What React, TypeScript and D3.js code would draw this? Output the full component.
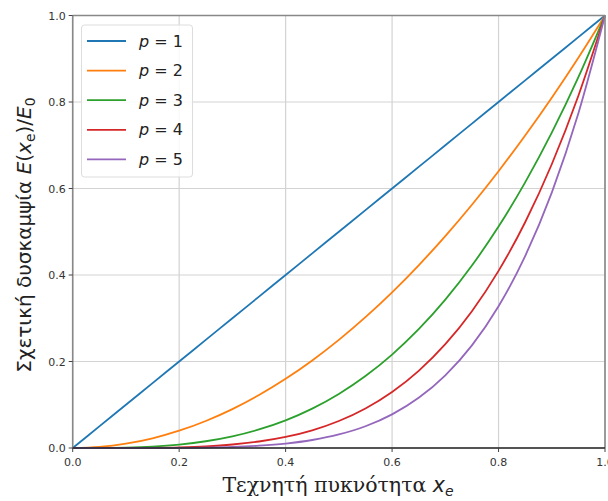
import React from "react";
import * as d3 from "d3";

const xs = [0, 0.05, 0.1, 0.15, 0.2, 0.25, 0.3, 0.35, 0.4, 0.45, 0.5, 0.55, 0.6, 0.65, 0.7, 0.75, 0.8, 0.85, 0.9, 0.95, 1];
const p1 = [0, 0.05, 0.1, 0.15, 0.2, 0.25, 0.3, 0.35, 0.4, 0.45, 0.5, 0.55, 0.6, 0.65, 0.7, 0.75, 0.8, 0.85, 0.9, 0.95, 1];
const p2 = [0, 0.0025, 0.01, 0.0225, 0.04, 0.0625, 0.09, 0.1225, 0.16, 0.2025, 0.25, 0.3025, 0.36, 0.4225, 0.49, 0.5625, 0.64, 0.7225, 0.81, 0.9025, 1];
const p3 = [0, 0.0001, 0.001, 0.0034, 0.008, 0.0156, 0.027, 0.0429, 0.064, 0.0911, 0.125, 0.1664, 0.216, 0.2746, 0.343, 0.4219, 0.512, 0.6141, 0.729, 0.8574, 1];
const p4 = [0, 0, 0.0001, 0.0005, 0.0016, 0.0039, 0.0081, 0.015, 0.0256, 0.041, 0.0625, 0.0915, 0.1296, 0.1785, 0.2401, 0.3164, 0.4096, 0.522, 0.6561, 0.8145, 1];
const p5 = [0, 0, 0, 0.0001, 0.0003, 0.001, 0.0024, 0.0053, 0.0102, 0.0185, 0.0313, 0.0503, 0.0778, 0.116, 0.1681, 0.2373, 0.3277, 0.4437, 0.5905, 0.7738, 1];
const seriesNames = ["1", "2", "3", "4", "5"];
const colors = ["#1f77b4", "#ff7f0e", "#2ca02c", "#d62728", "#9467bd"];
const ticks = [0, 0.2, 0.4, 0.6, 0.8, 1.0];

export default function App() {
  const W = 608, H = 501;
  const left = 72.7, right = 605, top = 15.5, bottom = 448;
  const x = d3.scaleLinear().domain([0, 1]).range([left, right]);
  const y = d3.scaleLinear().domain([0, 1]).range([bottom, top]);
  const series = [p1, p2, p3, p4, p5];
  const line = d3
    .line<number>()
    .x((_, i) => x(xs[i]))
    .y((v) => y(v))
    .curve(d3.curveMonotoneX);
  const tickFont = "DejaVu Sans, sans-serif";

  return (
    <svg width={W} height={H} style={{ position: "absolute", left: 0, top: 0 }}>
      <rect width={W} height={H} fill="#fff" />
      {/* grid */}
      {ticks.map((t) => (
        <g key={"g" + t}>
          <line x1={x(t)} x2={x(t)} y1={top} y2={bottom} stroke="#d3d3d3" strokeWidth={1.2} />
          <line x1={left} x2={right} y1={y(t)} y2={y(t)} stroke="#d3d3d3" strokeWidth={1.2} />
        </g>
      ))}
      {/* curves */}
      {series.map((s, i) => (
        <path key={i} d={line(s) || ""} fill="none" stroke={colors[i]} strokeWidth={1.8} />
      ))}
      {/* spines */}
      <line x1={left} x2={left} y1={top} y2={bottom} stroke="#888" strokeWidth={1.6} />
      <line x1={right} x2={right} y1={top} y2={bottom} stroke="#888" strokeWidth={1.6} />
      <line x1={left} x2={right} y1={top} y2={top} stroke="#888" strokeWidth={1.6} />
      <line x1={left} x2={right} y1={bottom} y2={bottom} stroke="#222" strokeWidth={1.4} />
      {/* ticks */}
      {ticks.map((t) => (
        <g key={"t" + t}>
          <line x1={x(t)} x2={x(t)} y1={bottom} y2={bottom + 4} stroke="#444" strokeWidth={1} />
          <text x={x(t)} y={bottom + 18} fontSize={11} fontFamily={tickFont} fill="#333" textAnchor="middle">
            {t.toFixed(1)}
          </text>
          <line x1={left - 4} x2={left} y1={y(t)} y2={y(t)} stroke="#444" strokeWidth={1} />
          <text x={left - 7} y={y(t) + 4} fontSize={11} fontFamily={tickFont} fill="#333" textAnchor="end">
            {t.toFixed(1)}
          </text>
        </g>
      ))}
      {/* legend */}
      <rect x={81.5} y={25} width={111} height={152} rx={3} fill="#fff" fillOpacity={0.85} stroke="#ddd" strokeWidth={1} />
      {seriesNames.map((n, i) => {
        const ly = 41 + i * 29.6;
        return (
          <g key={"l" + n}>
            <line x1={87} x2={126} y1={ly} y2={ly} stroke={colors[i]} strokeWidth={1.8} />
            <text x={139} y={ly + 5.5} fontSize={16} fontFamily={tickFont} fill="#222">
              <tspan fontStyle="italic">p</tspan>
              <tspan> = {n}</tspan>
            </text>
          </g>
        );
      })}
      {/* axis labels */}
      <text x={338} y={492} fontSize={20.5} fontFamily="DejaVu Serif, serif" fill="#222" textAnchor="middle">
        Τεχνητή πυκνότητα <tspan fontFamily="DejaVu Sans, sans-serif" fontStyle="italic">x</tspan>
        <tspan fontFamily="DejaVu Sans, sans-serif" fontStyle="italic" fontSize={14} dy={4}>e</tspan>
      </text>
      <text
        transform={`translate(31, 235) rotate(-90)`}
        fontSize={20}
        fontFamily={tickFont}
        fill="#222"
        textAnchor="middle"
      >
        Σχετική δυσκαμψία <tspan fontStyle="italic">E</tspan>(<tspan fontStyle="italic">x</tspan>
        <tspan fontSize={14} dy={4}>e</tspan>
        <tspan dy={-4}>)/</tspan>
        <tspan fontStyle="italic">E</tspan>
        <tspan fontSize={14} dy={4}>0</tspan>
      </text>
    </svg>
  );
}
